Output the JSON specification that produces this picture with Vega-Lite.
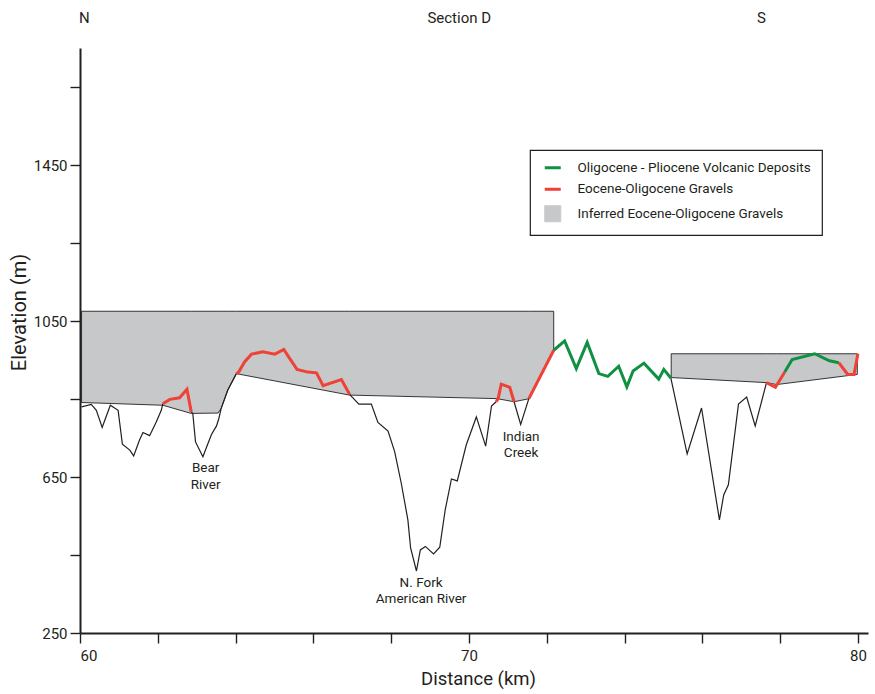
{
  "$schema": "https://vega.github.io/schema/vega-lite/v6.json",
  "width": 788,
  "height": 585,
  "autosize": {"type": "none"},
  "padding": {"left": 80, "top": 48, "right": 7, "bottom": 61},
  "background": "white",
  "config": {
    "view": {"stroke": null},
    "font": "Roboto",
    "axis": {
      "domainColor": "#231f20",
      "domainWidth": 2,
      "tickColor": "#231f20",
      "tickWidth": 1.4,
      "tickSize": 10,
      "grid": false,
      "labelFont": "Roboto",
      "labelFontSize": 15,
      "labelColor": "#231f20",
      "titleFont": "Roboto",
      "titleFontWeight": "normal",
      "titleColor": "#231f20"
    }
  },
  "datasets": {
    "profile": [
      {"km": 60.04, "elev": 830, "seg": "b1", "unit": "Terrain"},
      {"km": 60.29, "elev": 836, "seg": "b1", "unit": "Terrain"},
      {"km": 60.42, "elev": 821, "seg": "b1", "unit": "Terrain"},
      {"km": 60.57, "elev": 777, "seg": "b1", "unit": "Terrain"},
      {"km": 60.78, "elev": 834, "seg": "b1", "unit": "Terrain"},
      {"km": 60.98, "elev": 821, "seg": "b1", "unit": "Terrain"},
      {"km": 61.09, "elev": 734, "seg": "b1", "unit": "Terrain"},
      {"km": 61.28, "elev": 719, "seg": "b1", "unit": "Terrain"},
      {"km": 61.38, "elev": 704, "seg": "b1", "unit": "Terrain"},
      {"km": 61.53, "elev": 745, "seg": "b1", "unit": "Terrain"},
      {"km": 61.62, "elev": 764, "seg": "b1", "unit": "Terrain"},
      {"km": 61.79, "elev": 756, "seg": "b1", "unit": "Terrain"},
      {"km": 61.96, "elev": 791, "seg": "b1", "unit": "Terrain"},
      {"km": 62.09, "elev": 821, "seg": "b1", "unit": "Terrain"},
      {"km": 62.13, "elev": 838, "seg": "b1", "unit": "Terrain"},
      {"km": 62.13, "elev": 838, "seg": "r1", "unit": "Eocene-Oligocene Gravels"},
      {"km": 62.31, "elev": 849, "seg": "r1", "unit": "Eocene-Oligocene Gravels"},
      {"km": 62.56, "elev": 853, "seg": "r1", "unit": "Eocene-Oligocene Gravels"},
      {"km": 62.75, "elev": 875, "seg": "r1", "unit": "Eocene-Oligocene Gravels"},
      {"km": 62.86, "elev": 817, "seg": "r1", "unit": "Eocene-Oligocene Gravels"},
      {"km": 62.86, "elev": 817, "seg": "b2", "unit": "Terrain"},
      {"km": 62.90, "elev": 813, "seg": "b2", "unit": "Terrain"},
      {"km": 62.97, "elev": 740, "seg": "b2", "unit": "Terrain"},
      {"km": 63.16, "elev": 702, "seg": "b2", "unit": "Terrain"},
      {"km": 63.29, "elev": 736, "seg": "b2", "unit": "Terrain"},
      {"km": 63.38, "elev": 759, "seg": "b2", "unit": "Terrain"},
      {"km": 63.51, "elev": 781, "seg": "b2", "unit": "Terrain"},
      {"km": 63.57, "elev": 800, "seg": "b2", "unit": "Terrain"},
      {"km": 63.63, "elev": 826, "seg": "b2", "unit": "Terrain"},
      {"km": 63.80, "elev": 873, "seg": "b2", "unit": "Terrain"},
      {"km": 64.02, "elev": 915, "seg": "b2", "unit": "Terrain"},
      {"km": 64.02, "elev": 915, "seg": "r2", "unit": "Eocene-Oligocene Gravels"},
      {"km": 64.08, "elev": 919, "seg": "r2", "unit": "Eocene-Oligocene Gravels"},
      {"km": 64.23, "elev": 945, "seg": "r2", "unit": "Eocene-Oligocene Gravels"},
      {"km": 64.41, "elev": 965, "seg": "r2", "unit": "Eocene-Oligocene Gravels"},
      {"km": 64.70, "elev": 971, "seg": "r2", "unit": "Eocene-Oligocene Gravels"},
      {"km": 65.01, "elev": 965, "seg": "r2", "unit": "Eocene-Oligocene Gravels"},
      {"km": 65.24, "elev": 977, "seg": "r2", "unit": "Eocene-Oligocene Gravels"},
      {"km": 65.39, "elev": 954, "seg": "r2", "unit": "Eocene-Oligocene Gravels"},
      {"km": 65.58, "elev": 926, "seg": "r2", "unit": "Eocene-Oligocene Gravels"},
      {"km": 65.86, "elev": 919, "seg": "r2", "unit": "Eocene-Oligocene Gravels"},
      {"km": 66.08, "elev": 917, "seg": "r2", "unit": "Eocene-Oligocene Gravels"},
      {"km": 66.25, "elev": 884, "seg": "r2", "unit": "Eocene-Oligocene Gravels"},
      {"km": 66.72, "elev": 900, "seg": "r2", "unit": "Eocene-Oligocene Gravels"},
      {"km": 66.93, "elev": 862, "seg": "r2", "unit": "Eocene-Oligocene Gravels"},
      {"km": 66.93, "elev": 862, "seg": "b3", "unit": "Terrain"},
      {"km": 67.17, "elev": 837, "seg": "b3", "unit": "Terrain"},
      {"km": 67.49, "elev": 837, "seg": "b3", "unit": "Terrain"},
      {"km": 67.66, "elev": 790, "seg": "b3", "unit": "Terrain"},
      {"km": 67.92, "elev": 768, "seg": "b3", "unit": "Terrain"},
      {"km": 68.09, "elev": 715, "seg": "b3", "unit": "Terrain"},
      {"km": 68.26, "elev": 634, "seg": "b3", "unit": "Terrain"},
      {"km": 68.43, "elev": 540, "seg": "b3", "unit": "Terrain"},
      {"km": 68.50, "elev": 468, "seg": "b3", "unit": "Terrain"},
      {"km": 68.65, "elev": 409, "seg": "b3", "unit": "Terrain"},
      {"km": 68.75, "elev": 463, "seg": "b3", "unit": "Terrain"},
      {"km": 68.88, "elev": 472, "seg": "b3", "unit": "Terrain"},
      {"km": 69.09, "elev": 453, "seg": "b3", "unit": "Terrain"},
      {"km": 69.25, "elev": 470, "seg": "b3", "unit": "Terrain"},
      {"km": 69.39, "elev": 566, "seg": "b3", "unit": "Terrain"},
      {"km": 69.55, "elev": 645, "seg": "b3", "unit": "Terrain"},
      {"km": 69.70, "elev": 640, "seg": "b3", "unit": "Terrain"},
      {"km": 69.93, "elev": 732, "seg": "b3", "unit": "Terrain"},
      {"km": 70.19, "elev": 804, "seg": "b3", "unit": "Terrain"},
      {"km": 70.43, "elev": 729, "seg": "b3", "unit": "Terrain"},
      {"km": 70.58, "elev": 832, "seg": "b3", "unit": "Terrain"},
      {"km": 70.70, "elev": 843, "seg": "b3", "unit": "Terrain"},
      {"km": 70.70, "elev": 843, "seg": "r3", "unit": "Eocene-Oligocene Gravels"},
      {"km": 70.75, "elev": 851, "seg": "r3", "unit": "Eocene-Oligocene Gravels"},
      {"km": 70.83, "elev": 888, "seg": "r3", "unit": "Eocene-Oligocene Gravels"},
      {"km": 71.05, "elev": 880, "seg": "r3", "unit": "Eocene-Oligocene Gravels"},
      {"km": 71.16, "elev": 843, "seg": "r3", "unit": "Eocene-Oligocene Gravels"},
      {"km": 71.16, "elev": 843, "seg": "b4", "unit": "Terrain"},
      {"km": 71.33, "elev": 785, "seg": "b4", "unit": "Terrain"},
      {"km": 71.54, "elev": 851, "seg": "b4", "unit": "Terrain"},
      {"km": 71.54, "elev": 851, "seg": "r4", "unit": "Eocene-Oligocene Gravels"},
      {"km": 72.18, "elev": 975, "seg": "r4", "unit": "Eocene-Oligocene Gravels"},
      {"km": 72.18, "elev": 975, "seg": "g1", "unit": "Oligocene - Pliocene Volcanic Deposits"},
      {"km": 72.46, "elev": 999, "seg": "g1", "unit": "Oligocene - Pliocene Volcanic Deposits"},
      {"km": 72.76, "elev": 928, "seg": "g1", "unit": "Oligocene - Pliocene Volcanic Deposits"},
      {"km": 73.04, "elev": 995, "seg": "g1", "unit": "Oligocene - Pliocene Volcanic Deposits"},
      {"km": 73.34, "elev": 915, "seg": "g1", "unit": "Oligocene - Pliocene Volcanic Deposits"},
      {"km": 73.57, "elev": 908, "seg": "g1", "unit": "Oligocene - Pliocene Volcanic Deposits"},
      {"km": 73.85, "elev": 934, "seg": "g1", "unit": "Oligocene - Pliocene Volcanic Deposits"},
      {"km": 74.06, "elev": 881, "seg": "g1", "unit": "Oligocene - Pliocene Volcanic Deposits"},
      {"km": 74.22, "elev": 922, "seg": "g1", "unit": "Oligocene - Pliocene Volcanic Deposits"},
      {"km": 74.50, "elev": 942, "seg": "g1", "unit": "Oligocene - Pliocene Volcanic Deposits"},
      {"km": 74.88, "elev": 901, "seg": "g1", "unit": "Oligocene - Pliocene Volcanic Deposits"},
      {"km": 75.01, "elev": 926, "seg": "g1", "unit": "Oligocene - Pliocene Volcanic Deposits"},
      {"km": 75.19, "elev": 904, "seg": "g1", "unit": "Oligocene - Pliocene Volcanic Deposits"},
      {"km": 75.19, "elev": 904, "seg": "b5", "unit": "Terrain"},
      {"km": 75.61, "elev": 709, "seg": "b5", "unit": "Terrain"},
      {"km": 75.98, "elev": 827, "seg": "b5", "unit": "Terrain"},
      {"km": 76.44, "elev": 540, "seg": "b5", "unit": "Terrain"},
      {"km": 76.55, "elev": 604, "seg": "b5", "unit": "Terrain"},
      {"km": 76.67, "elev": 630, "seg": "b5", "unit": "Terrain"},
      {"km": 76.93, "elev": 837, "seg": "b5", "unit": "Terrain"},
      {"km": 77.14, "elev": 855, "seg": "b5", "unit": "Terrain"},
      {"km": 77.36, "elev": 781, "seg": "b5", "unit": "Terrain"},
      {"km": 77.65, "elev": 892, "seg": "b5", "unit": "Terrain"},
      {"km": 77.65, "elev": 892, "seg": "r5", "unit": "Eocene-Oligocene Gravels"},
      {"km": 77.88, "elev": 880, "seg": "r5", "unit": "Eocene-Oligocene Gravels"},
      {"km": 78.12, "elev": 919, "seg": "r5", "unit": "Eocene-Oligocene Gravels"},
      {"km": 78.12, "elev": 919, "seg": "g2", "unit": "Oligocene - Pliocene Volcanic Deposits"},
      {"km": 78.31, "elev": 951, "seg": "g2", "unit": "Oligocene - Pliocene Volcanic Deposits"},
      {"km": 78.89, "elev": 966, "seg": "g2", "unit": "Oligocene - Pliocene Volcanic Deposits"},
      {"km": 79.27, "elev": 948, "seg": "g2", "unit": "Oligocene - Pliocene Volcanic Deposits"},
      {"km": 79.51, "elev": 943, "seg": "g2", "unit": "Oligocene - Pliocene Volcanic Deposits"},
      {"km": 79.51, "elev": 943, "seg": "r6", "unit": "Eocene-Oligocene Gravels"},
      {"km": 79.74, "elev": 913, "seg": "r6", "unit": "Eocene-Oligocene Gravels"},
      {"km": 79.90, "elev": 913, "seg": "r6", "unit": "Eocene-Oligocene Gravels"},
      {"km": 80.00, "elev": 966, "seg": "r6", "unit": "Eocene-Oligocene Gravels"}
    ],
    "inferred": [
      {"km": 60.04, "top": 1075, "bottom": 841, "poly": "p1", "unit": "Inferred Eocene-Oligocene Gravels"},
      {"km": 62.13, "top": 1075, "bottom": 834, "poly": "p1", "unit": "Inferred Eocene-Oligocene Gravels"},
      {"km": 62.86, "top": 1075, "bottom": 813, "poly": "p1", "unit": "Inferred Eocene-Oligocene Gravels"},
      {"km": 63.55, "top": 1075, "bottom": 814, "poly": "p1", "unit": "Inferred Eocene-Oligocene Gravels"},
      {"km": 63.63, "top": 1075, "bottom": 826, "poly": "p1", "unit": "Inferred Eocene-Oligocene Gravels"},
      {"km": 63.80, "top": 1075, "bottom": 873, "poly": "p1", "unit": "Inferred Eocene-Oligocene Gravels"},
      {"km": 64.02, "top": 1075, "bottom": 915, "poly": "p1", "unit": "Inferred Eocene-Oligocene Gravels"},
      {"km": 66.93, "top": 1075, "bottom": 860, "poly": "p1", "unit": "Inferred Eocene-Oligocene Gravels"},
      {"km": 70.72, "top": 1075, "bottom": 851, "poly": "p1", "unit": "Inferred Eocene-Oligocene Gravels"},
      {"km": 71.16, "top": 1075, "bottom": 843, "poly": "p1", "unit": "Inferred Eocene-Oligocene Gravels"},
      {"km": 71.56, "top": 1075, "bottom": 851, "poly": "p1", "unit": "Inferred Eocene-Oligocene Gravels"},
      {"km": 72.18, "top": 1075, "bottom": 975, "poly": "p1", "unit": "Inferred Eocene-Oligocene Gravels"},
      {"km": 75.20, "top": 966, "bottom": 905, "poly": "p2", "unit": "Inferred Eocene-Oligocene Gravels"},
      {"km": 77.65, "top": 966, "bottom": 892, "poly": "p2", "unit": "Inferred Eocene-Oligocene Gravels"},
      {"km": 77.91, "top": 966, "bottom": 887, "poly": "p2", "unit": "Inferred Eocene-Oligocene Gravels"},
      {"km": 79.985, "top": 966, "bottom": 913, "poly": "p2", "unit": "Inferred Eocene-Oligocene Gravels"}
    ],
    "notes": [
      {"km": 63.23, "elev": 691, "label": "Bear\nRiver"},
      {"km": 68.77, "elev": 397, "label": "N. Fork\nAmerican River"},
      {"km": 71.34, "elev": 771, "label": "Indian\nCreek"}
    ],
    "heads": [
      {"km": 60.11, "elev": 1828, "label": "N"},
      {"km": 69.75, "elev": 1828, "label": "Section D"},
      {"km": 77.52, "elev": 1828, "label": "S"}
    ]
  },
  "layer": [
    {
      "data": {"name": "inferred"},
      "mark": {"type": "area", "stroke": "#231f20", "strokeWidth": 0.9, "fillOpacity": 1, "interpolate": "linear"},
      "encoding": {
        "x": {
          "field": "km", "type": "quantitative",
          "scale": {"domain": [60, 80.26], "nice": false, "zero": false},
          "axis": {
            "values": [60, 62, 64, 66, 68, 70, 72, 74, 76, 78, 80],
            "labelExpr": "datum.value % 10 === 0 ? datum.label : ''",
            "format": "d",
            "labelPadding": 5,
            "title": "Distance (km)",
            "titleFontSize": 18.5,
            "titlePadding": 6,
            "titleX": 398
          }
        },
        "y": {
          "field": "top", "type": "quantitative",
          "scale": {"domain": [250, 1750], "nice": false, "zero": false},
          "axis": {
            "values": [250, 450, 650, 850, 1050, 1250, 1450, 1650],
            "labelExpr": "(datum.value - 250) % 400 === 0 ? datum.label : ''",
            "format": "d",
            "labelPadding": 3,
            "title": "Elevation (m)",
            "titleFontSize": 20,
            "titlePadding": 4,
            "titleY": 264
          }
        },
        "y2": {"field": "bottom"},
        "detail": {"field": "poly"},
        "color": {
          "field": "unit", "type": "nominal",
          "scale": {
            "domain": ["Oligocene - Pliocene Volcanic Deposits", "Eocene-Oligocene Gravels", "Inferred Eocene-Oligocene Gravels"],
            "range": ["#0f9142", "#ef4136", "#c7c8ca"]
          },
          "legend": {
            "title": null,
            "orient": "none",
            "legendX": 450,
            "legendY": 102,
            "padding": 11,
            "symbolOffset": 5,
            "rowPadding": 6.5,
            "labelOffset": 18,
            "labelFont": "Roboto",
            "labelFontSize": 13.5,
            "labelColor": "#231f20",
            "labelLimit": 400,
            "strokeColor": "#231f20",
            "symbolType": "square",
            "symbolSize": 256,
            "encoding": {
              "legend": {"strokeWidth": {"value": 1.2}},
              "symbols": {
                "shape": {"value": {"expr": "datum.value === 'Inferred Eocene-Oligocene Gravels' ? 'square' : 'stroke'"}},
                "fill": {"value": {"expr": "datum.value === 'Inferred Eocene-Oligocene Gravels' ? '#c7c8ca' : 'transparent'"}},
                "stroke": {"value": {"expr": "datum.value === 'Inferred Eocene-Oligocene Gravels' ? '#231f20' : (datum.value === 'Eocene-Oligocene Gravels' ? '#ef4136' : '#0f9142')"}},
                "strokeWidth": {"value": {"expr": "datum.value === 'Inferred Eocene-Oligocene Gravels' ? 1 : 3"}},
                "size": {"value": 256},
                "opacity": {"value": 1}
              }
            }
          }
        }
      }
    },
    {
      "data": {"name": "profile"},
      "transform": [{"filter": "datum.unit === 'Terrain'"}],
      "mark": {"type": "line", "color": "#231f20", "strokeWidth": 1.2, "strokeJoin": "miter"},
      "encoding": {
        "x": {"field": "km", "type": "quantitative"},
        "y": {"field": "elev", "type": "quantitative"},
        "detail": {"field": "seg"}
      }
    },
    {
      "data": {"name": "profile"},
      "transform": [{"filter": "datum.unit !== 'Terrain'"}],
      "mark": {"type": "line", "strokeWidth": 3, "strokeJoin": "miter"},
      "encoding": {
        "x": {"field": "km", "type": "quantitative"},
        "y": {"field": "elev", "type": "quantitative"},
        "detail": {"field": "seg"},
        "color": {"field": "unit", "type": "nominal"}
      }
    },
    {
      "data": {"name": "notes"},
      "mark": {"type": "text", "font": "Roboto", "fontSize": 13.5, "color": "#231f20", "baseline": "top", "align": "center", "lineBreak": "\n", "lineHeight": 16.5},
      "encoding": {
        "x": {"field": "km", "type": "quantitative"},
        "y": {"field": "elev", "type": "quantitative"},
        "text": {"field": "label"}
      }
    },
    {
      "data": {"name": "heads"},
      "mark": {"type": "text", "font": "Roboto", "fontSize": 15, "color": "#231f20", "baseline": "middle", "align": "center"},
      "encoding": {
        "x": {"field": "km", "type": "quantitative"},
        "y": {"field": "elev", "type": "quantitative"},
        "text": {"field": "label"}
      }
    }
  ]
}
